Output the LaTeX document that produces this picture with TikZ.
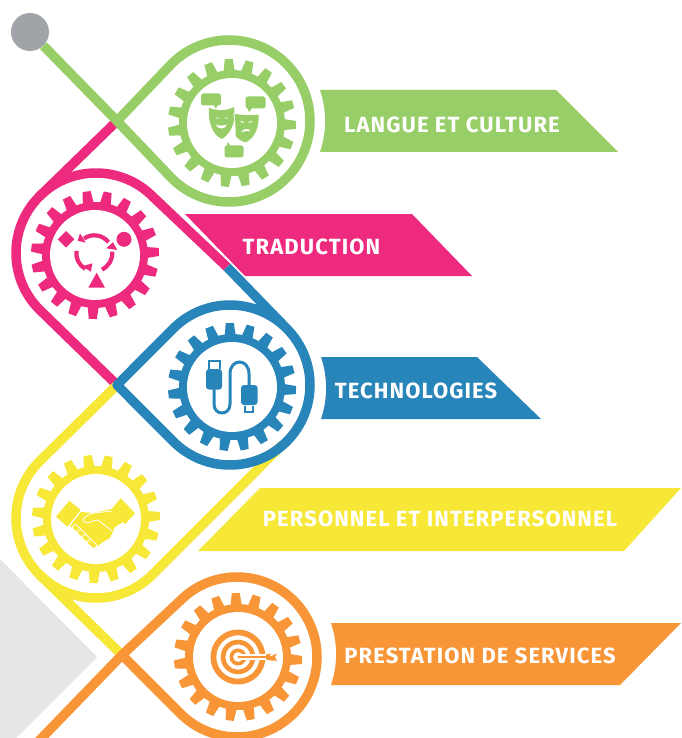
\documentclass[tikz,border=0pt]{standalone}
\usepackage{fontspec}
\usetikzlibrary{calc}
\newfontfamily\bannerfont[LetterSpace=5]{Fira Sans}
\definecolor{lang_green}{HTML}{98CE68}
\definecolor{trad_pink}{HTML}{ED2A7E}
\definecolor{tech_blue}{HTML}{2785B9}
\definecolor{pers_yellow}{HTML}{F7E736}
\definecolor{serv_orange}{HTML}{F79537}
\definecolor{ball_grey}{HTML}{A0A3A8}
\definecolor{back_grey}{HTML}{E6E6E6}
\begin{document}
\begin{tikzpicture}[
  x=1pt, y=1pt,
  loop_line/.style={line width=9.5pt, line join=round},
  banner_text/.style={inner sep=0pt, text=white, font=\bannerfont\bfseries\fontsize{22}{25}\selectfont},
  ball/.style={circle, fill=ball_grey, minimum size=38pt, inner sep=0pt},
  turn_line/.style={line width=4.2pt},
  cog/.pic={
    \fill[pic actions] (0,0) circle (53);
    \fill[white] (0,0) circle (45);
    \foreach \n in {0,...,18}
      \fill[pic actions, rotate=\n*360/19] (-5.6,51) -- (-4,64) -- (4,64) -- (5.6,51) -- cycle;
  },
]
\useasboundingbox (0,0) rectangle (681,-738);
\fill[white] (0,0) rectangle (681,-738);
\clip (0,0) rectangle (681,-738);
\coordinate (knot_a) at (117,-121);
\coordinate (knot_b) at (117,-385);
\coordinate (knot_c) at (122,-655);
\coordinate (pink_end) at (227,-267);
\coordinate (yellow_end) at (282,-445);
\coordinate (orange_end) at (35,-745);
\coordinate (green_c) at (229,-121);
\coordinate (pink_c) at (96,-253);
\coordinate (blue_c) at (230,-385);
\coordinate (yellow_c) at (96,-518);
\coordinate (orange_c) at (237,-657);

\fill[back_grey] (0,-559) -- (97,-657) -- (16,-738) -- (0,-738) -- cycle;

\fill[lang_green] (320,-90) -- (556,-90) -- (618,-152) -- (320,-152) arc[start angle=-18.8, end angle=18.8, radius=96] -- cycle;
\fill[trad_pink] (185,-214) -- (412,-214) -- (472,-276) -- (245,-276) -- cycle;
\fill[tech_blue] (321,-357) -- (477,-357) -- (541,-419) -- (321,-419) arc[start angle=-18.8, end angle=18.8, radius=96] -- cycle;
\fill[pers_yellow] (260,-488) -- (681,-488) -- (624,-551) -- (198,-551) -- cycle;
\fill[serv_orange] (331,-623) -- (681,-623) -- (620,-685) -- (331,-685) arc[start angle=-18.8, end angle=18.8, radius=96] -- cycle;

\node[banner_text] (lang_label) at (452,-124.5) {LANGUE ET CULTURE};
\node[banner_text] (trad_label) at (311.5,-247) {TRADUCTION};
\node[banner_text] (tech_label) at (416,-390.5) {TECHNOLOGIES};
\node[banner_text] (pers_label) at (440,-519) {PERSONNEL ET INTERPERSONNEL};
\node[banner_text] (serv_label) at (480,-656) {PRESTATION DE SERVICES};

\draw[loop_line, trad_pink] (knot_a) -- ($(pink_c)+(135:80)$) arc[start angle=135, end angle=225, radius=80] -- (knot_b);
\draw[loop_line, trad_pink] ($(pink_c)+(135:80)$) arc[start angle=135, end angle=45, radius=80] -- (pink_end);
\node[ball] (start_ball) at (30,-32) {};
\draw[loop_line, lang_green] (start_ball) -- (knot_a) -- ($(green_c)+(225:81)$) arc[start angle=225, end angle=495, radius=81] -- (knot_a);
\draw[loop_line, pers_yellow] (knot_b) -- ($(yellow_c)+(135:80)$) arc[start angle=135, end angle=315, radius=80] -- (yellow_end);
\draw[loop_line, pers_yellow] ($(yellow_c)+(225:80)$) -- (knot_c);
\draw[loop_line, tech_blue] (pink_end) -- ($(blue_c)+(45:80)$) arc[start angle=45, end angle=-135, radius=80] -- (knot_b) -- ($(blue_c)+(135:80)$) arc[start angle=135, end angle=45, radius=80];
\draw[loop_line, serv_orange] (orange_end) -- (knot_c) -- ($(orange_c)+(135:80)$) arc[start angle=135, end angle=-135, radius=80] -- (knot_c);

\pic[fill=lang_green, rotate=3] at (232,-123) {cog};
\pic[fill=trad_pink, rotate=7.5] at (95,-255) {cog};
\pic[fill=tech_blue, rotate=2] at (232,-387) {cog};
\pic[fill=pers_yellow, rotate=7.5] at (96,-519) {cog};
\pic[fill=serv_orange, rotate=2] at (238,-657) {cog};

\begin{scope}[shift={(232,-123)}, lang_green]
  \fill[rounded corners=2.5pt] (-31,29.5) rectangle (-11,17.5);
  \fill (-19,19) -- (-16,14) -- (-14,19) -- cycle;
  \fill[rounded corners=2.5pt] (13.5,26.5) rectangle (33.5,14.5);
  \fill (15,16) -- (17,11) -- (21,16) -- cycle;
  \fill[rounded corners=2.5pt] (-7.5,-22.5) rectangle (11.5,-34.5);
  \fill (-6,-24) -- (-4,-19) -- (-1,-24) -- cycle;
  \fill (-23,15) .. controls (-14,12) and (-6,12) .. (2,16) .. controls (4,4) and (1,-9) .. (-10,-16) .. controls (-20,-12) and (-24,2) .. (-23,15) -- cycle;
  \fill[white] (-17,4.5) .. controls (-15.5,6) and (-14,6) .. (-12.5,4.5) .. controls (-14,4) and (-15.5,4) .. (-17,4.5);
  \fill[white] (-8,4.5) .. controls (-6.5,6) and (-5,6) .. (-3.5,4.5) .. controls (-5,4) and (-6.5,4) .. (-8,4.5);
  \fill[white] (-16,-1.5) .. controls (-13,-3) and (-9,-3) .. (-5,-1.5) .. controls (-6,-6.5) and (-15,-7) .. (-16,-1.5);
  \draw[white, line width=0.9pt, fill=lang_green] (2,10) .. controls (10,8) and (18,8) .. (27,9) .. controls (28,-3) and (24,-15) .. (14,-20) .. controls (9,-19) and (5,-16) .. (3,-13) .. controls (3.5,-4) and (2.5,2) .. (2,10) -- cycle;
  \fill[white] (8,1) .. controls (9.5,2.5) and (11,2.5) .. (12.5,0) .. controls (11,0.7) and (9.5,0.7) .. (8,1);
  \fill[white] (16,0) .. controls (17.5,2.5) and (19,2.5) .. (21,1) .. controls (19,0.7) and (17.5,0.7) .. (16,0);
  \fill[white] (9,-9.5) .. controls (11,-5.5) and (16,-4.5) .. (19,-8.5) .. controls (16,-7.5) and (12,-8) .. (9,-9.5);
\end{scope}

\begin{scope}[shift={(95,-255)}, trad_pink]
  \fill (-29,24) -- (-20.7,15.7) -- (-29,7.4) -- (-37.3,15.7) -- cycle;
  \fill (29,15.7) circle (7.5);
  \fill (1.7,-17.7) -- (10,-32.7) -- (-6.7,-32.7) -- cycle;
  \draw[turn_line] (-0.7,1.7) ++(38:18) arc[start angle=38, end angle=125, radius=18];
  \fill (-15,21.7) -- (-9.3,12.3) -- (-17.3,14.3) -- cycle;
  \draw[turn_line] (-0.7,1.7) ++(-65:18) arc[start angle=-65, end angle=5, radius=18];
  \fill (11.2,6.7) -- (22.2,5) -- (18,12.8) -- cycle;
  \draw[turn_line] (-0.7,1.7) ++(172:18) arc[start angle=172, end angle=240, radius=18];
  \fill (-12.7,-11.3) -- (-2.7,-8.3) -- (-4,-16.7) -- cycle;
\end{scope}

\begin{scope}[shift={(232,-387)}, tech_blue]
  \draw[line width=1.8pt] (-23,18) -- (-23,26) -- (-12,26) -- (-12,18);
  \fill[rounded corners=3pt] (-26,18) rectangle (-10,-2.5);
  \draw[line width=3pt] (-18,-2) -- (-18,-17) .. controls (-18,-29) and (-2,-29) .. (-2,-17) -- (-2,13) .. controls (-2,29) and (17,29) .. (17,13) -- (17,1);
  \fill[rounded corners=3pt] (9,2) rectangle (25.5,-18);
  \draw[line width=1.8pt] (13,-19) -- (13,-25) -- (21,-25) -- (21,-19);
\end{scope}

\begin{scope}[shift={(96,-519)}, pers_yellow]
  \fill (-26.7,18.3) -- (-15.3,9) -- (-28.7,-7.7) -- (-40,2.3) -- cycle;
  \fill (24.7,20.7) -- (39,5.7) -- (29,-5.3) -- (15.7,10) -- cycle;
  \fill (-15,7) -- (-3,6) -- (15.7,10) -- (27,-3) -- (19,-8) -- (14,-19) -- (7,-23) -- (0,-28) -- (-9,-21) -- (-26,-7) -- cycle;
  \draw[white, line width=0.8pt] (16,8) -- (-2,6) .. controls (-10,4) and (-16,-1) .. (-12,-3) .. controls (-7,-5) and (-2,-1) .. (2,-1) -- (16,-12);
  \foreach \fx/\fy in {-19/-10, -14/-15, -9/-20, -4/-25}
    \draw[white, fill=pers_yellow, line width=0.8pt, rounded corners=2pt, rotate around={-42:(\fx,\fy)}] (\fx-5,\fy+2.6) rectangle (\fx+5,\fy-2.6);
\end{scope}

\begin{scope}[shift={(238,-657)}, serv_orange]
  \fill[even odd rule] (0,0) circle (27.5) circle (21.7);
  \fill[even odd rule] (0,0) circle (17.3) circle (12.7);
  \fill[even odd rule] (0,0) circle (8.5) circle (5);
  \draw[white, line width=5.6pt] (3,0) -- (31,0);
  \draw[line width=2.4pt, line cap=round] (0.5,0) -- (33,0);
  \fill (28,2.5) -- (33,3.5) -- (31,0) -- (39,3.5) -- (37,0) -- (39,-3.5) -- (33,-3.5) -- (28,-2.5) -- cycle;
\end{scope}
\end{tikzpicture}
\end{document}
